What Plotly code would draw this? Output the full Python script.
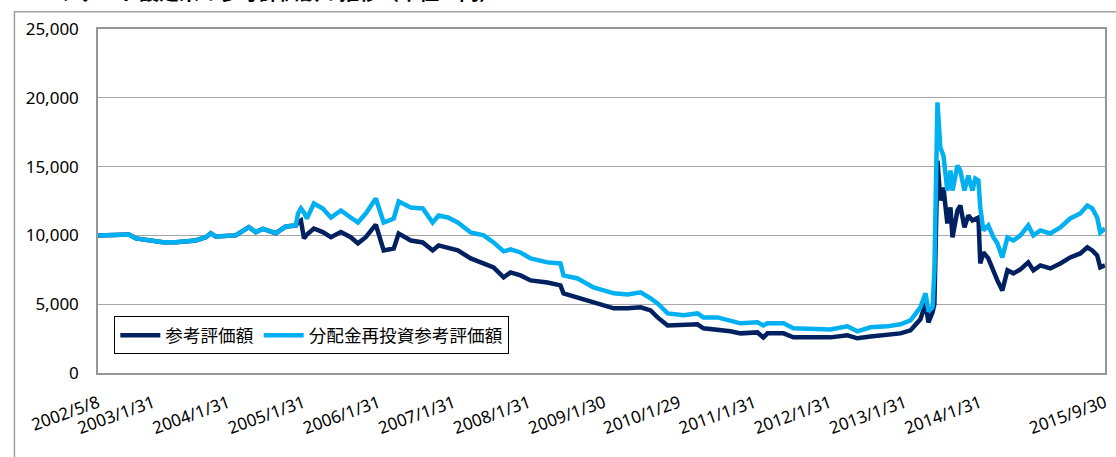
import plotly.graph_objects as go

dates = ["2002-05-08","2002-10-05","2002-11-08","2003-03-19","2003-05-21","2003-08-26","2003-10-14","2003-11-07","2003-12-01","2004-03-07",
         "2004-05-10","2004-06-13","2004-07-17","2004-09-18","2004-11-06","2004-12-24","2005-01-04","2005-01-18","2005-02-02","2005-02-16",
         "2005-03-22","2005-05-04","2005-06-13","2005-07-31","2005-09-17","2005-10-22","2005-11-29","2006-01-17","2006-02-24","2006-04-14",
         "2006-05-08","2006-07-06","2006-09-02","2006-10-20","2006-11-18","2007-01-02","2007-02-19","2007-04-23","2007-06-25","2007-08-12",
         "2007-09-30","2007-11-03","2007-12-21","2008-02-08","2008-04-30","2008-07-02","2008-07-17","2008-09-23","2008-12-10","2009-03-18",
         "2009-05-25","2009-07-27","2009-09-13","2009-10-17","2009-12-05","2010-02-20","2010-04-29","2010-05-28","2010-08-04","2010-10-06",
         "2010-11-24","2011-02-14","2011-03-15","2011-04-04","2011-06-21","2011-08-08","2011-11-13","2012-02-04","2012-04-26","2012-06-14",
         "2012-08-16","2012-11-06","2013-01-09","2013-02-27","2013-04-16","2013-05-11","2013-05-25","2013-06-14","2013-06-23","2013-07-08",
         "2013-07-22","2013-08-06","2013-08-25","2013-09-09","2013-09-19","2013-10-13","2013-10-27","2013-11-16","2013-12-05","2013-12-25",
         "2014-01-08","2014-01-23","2014-02-01","2014-02-16","2014-03-12","2014-04-06","2014-04-25","2014-05-19","2014-06-13","2014-07-12",
         "2014-08-15","2014-09-22","2014-10-17","2014-11-20","2015-01-07","2015-02-25","2015-04-14","2015-06-02","2015-07-06","2015-07-30",
         "2015-08-23","2015-09-07","2015-09-30"]

reinvest_values = [10000,10070,9780,9510,9510,9630,9870,10160,9920,10000,
                   10600,10240,10480,10160,10650,10720,11590,11960,11660,11230,
                   12320,11960,11300,11810,11300,10940,11590,12680,10940,11230,
                   12460,12030,11960,10940,11450,11300,10940,10210,10000,9490,
                   8840,8980,8760,8330,8040,7960,7090,6870,6220,5790,
                   5710,5860,5420,5060,4330,4190,4330,4040,4040,3830,
                   3610,3680,3460,3610,3610,3250,3170,3170,3390,3030,
                   3320,3390,3540,3830,4770,5790,4480,4770,7460,19670,
                   16380,15800,13260,14710,13260,15080,14710,13260,14350,13260,
                   14130,13990,12030,10360,10720,9850,9420,8400,9850,9630,
                   10000,10720,10000,10360,10140,10580,11230,11590,12170,11960,
                   11300,10210,10500]

reference_values = [10000,10070,9780,9510,9510,9630,9870,10160,9920,10000,
                    10600,10240,10480,10160,10650,10720,10940,11080,9780,10070,
                    10500,10240,9870,10240,9870,9420,9870,10790,8910,9050,
                    10140,9630,9490,8910,9270,9130,8910,8330,7960,7670,
                    6950,7310,7090,6730,6580,6370,5790,5500,5130,4700,
                    4700,4770,4550,4040,3460,3460,3540,3250,3170,3030,
                    2880,2950,2590,2880,2880,2590,2590,2590,2740,2520,
                    2660,2740,2880,3100,3900,5060,3680,4410,5000,15440,
                    12540,13480,10870,12030,9850,11810,12170,10580,11450,11080,
                    11230,11300,7960,8760,8330,7310,6730,6000,7460,7240,
                    7530,8040,7460,7820,7600,7960,8400,8690,9130,8910,
                    8540,7670,7820]

tick_dates = ["2002-05-08","2003-01-31","2004-01-31","2005-01-31","2006-01-31","2007-01-31","2008-01-31",
              "2009-01-30","2010-01-29","2011-01-31","2012-01-31","2013-01-31","2014-01-31","2015-09-30"]
tick_labels = ["2002/5/8","2003/1/31","2004/1/31","2005/1/31","2006/1/31","2007/1/31","2008/1/31",
               "2009/1/30","2010/1/29","2011/1/31","2012/1/31","2013/1/31","2014/1/31","2015/9/30"]

series_names = ["参考評価額", "分配金再投資参考評価額"]
title_text = "ファンド設定来の参考評価額の推移（単位：円）"

fig = go.Figure()
fig.add_trace(go.Scatter(x=dates, y=reference_values, mode="lines", name=series_names[0],
                         line=dict(color="#002060", width=4.5)))
fig.add_trace(go.Scatter(x=dates, y=reinvest_values, mode="lines", name=series_names[1],
                         line=dict(color="#00B0F0", width=4.5)))

fig.update_layout(
    width=1116, height=457,
    margin=dict(l=98, r=11, t=29, b=84),
    paper_bgcolor="white", plot_bgcolor="white",
    font=dict(family="Noto Sans, Liberation Sans, sans-serif", size=17, color="#000000"),
    showlegend=True,
    legend=dict(orientation="h", x=0.0162, y=0.165, xanchor="left", yanchor="top",
                bgcolor="white", bordercolor="#000000", borderwidth=1,
                font=dict(family="Noto Sans CJK JP", size=17.6, color="#000000"),
                itemwidth=40),
    xaxis=dict(type="date", range=["2002-05-08", "2015-09-30"], automargin=False,
               tickmode="array", tickvals=tick_dates, ticktext=tick_labels,
               tickangle=-20, showgrid=False, zeroline=False,
               showline=True, linecolor="#969696", linewidth=1.5, mirror=True,
               ticks="", ticklabelstandoff=12, tickfont=dict(size=17)),
    yaxis=dict(range=[0, 25000], dtick=5000, tickformat=",", automargin=False,
               showgrid=True, gridcolor="#A6A6A6", gridwidth=1.3,
               zeroline=False, showline=True, linecolor="#969696", linewidth=1.5, mirror=True,
               ticks="", ticklabelstandoff=14, tickfont=dict(size=17)),
    shapes=[dict(type="rect", xref="paper", yref="paper",
                 x0=-0.0830, y0=-0.3, x1=1.05, y1=1.0505,
                 line=dict(color="#A0A0A0", width=1.5), fillcolor="rgba(0,0,0,0)", layer="below")],
    annotations=[dict(text="<b>" + title_text + "</b>", xref="paper", yref="paper",
                      x=-0.0405, y=1.060, xanchor="left", yanchor="bottom", showarrow=False,
                      font=dict(family="Noto Sans CJK JP", size=20, color="#000000"))],
)

fig.write_html("out.html", config={"displayModeBar": False},
               post_script="document.body.style.margin='0';")
